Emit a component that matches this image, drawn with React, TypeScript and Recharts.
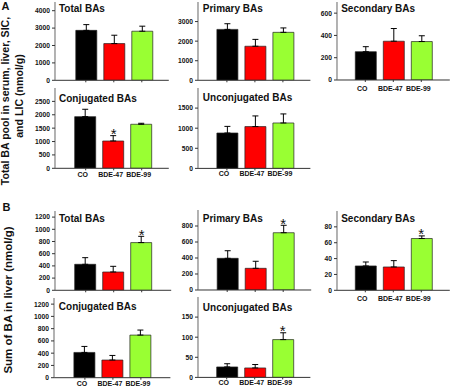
import React from 'react';
import { BarChart, Bar, XAxis, YAxis, ErrorBar, Cell, ReferenceDot } from 'recharts';

const FONT = 'Liberation Sans, Arial, sans-serif';

const groups = ['CO', 'BDE-47', 'BDE-99'];
const groupColors = ['#000000', '#ff0000', '#99ff33'];

// Panel A: total BA pool in serum, liver, SIC and LIC (nmol/g)
const aTotalMean = [2870, 2110, 2820];
const aTotalErr = [330, 480, 290];
const aPrimaryMean = [2600, 1740, 2450];
const aPrimaryErr = [290, 350, 225];
const aSecondaryMean = [254, 348, 345];
const aSecondaryErr = [45, 114, 52];
const aConjMean = [1930, 1020, 1645];
const aConjErr = [275, 200, 37];
const aUnconjMean = [880, 1040, 1130];
const aUnconjErr = [165, 265, 225];

// Panel B: sum of BA in liver (nmol/g)
const bTotalMean = [426, 300, 782];
const bTotalErr = [109, 93, 103];
const bPrimaryMean = [396, 271, 716];
const bPrimaryErr = [95, 88, 93];
const bSecondaryMean = [30.7, 29.4, 65.3];
const bSecondaryErr = [5, 8, 3.3];
const bConjMean = [412, 288, 695];
const bConjErr = [98, 75, 82];
const bUnconjMean = [26, 23.5, 94];
const bUnconjErr = [8, 8.5, 17];

// significance markers (*)
const noSig = [false, false, false];
const aConjSig = [false, true, false];
const bTotalSig = [false, false, true];
const bPrimarySig = [false, false, true];
const bSecondarySig = [false, false, true];
const bUnconjSig = [false, false, true];

// y-axis ticks
const ticks4000 = [0, 1000, 2000, 3000, 4000];
const ticks3000 = [0, 1000, 2000, 3000];
const ticks600 = [0, 200, 400, 600];
const ticks2500 = [0, 500, 1000, 1500, 2000, 2500];
const ticks1500 = [0, 500, 1000, 1500];
const ticks1200 = [0, 200, 400, 600, 800, 1000, 1200];
const ticks800 = [0, 200, 400, 600, 800];
const ticks80 = [0, 20, 40, 60, 80];
const ticks150 = [0, 50, 100, 150];

type PanelCfg = {
  title: string;
  mean: number[];
  err: number[];
  sig: boolean[];
  ticks: number[];
  max: number;
  L: number; R: number; T: number; B: number; c1: number;
  labels: boolean;
  labelMargin?: number;
  titleDy: number;
};

const panels: PanelCfg[] = [
  { title: 'Total BAs', mean: aTotalMean, err: aTotalErr, sig: noSig, ticks: ticks4000, max: 4500, L: 54.5, R: 168.3, T: 2, B: 80.3, c1: 85.3, labels: false, titleDy: 10 },
  { title: 'Primary BAs', mean: aPrimaryMean, err: aPrimaryErr, sig: noSig, ticks: ticks3000, max: 4000, L: 198.3, R: 310.7, T: 2, B: 80.3, c1: 227.2, labels: false, titleDy: 10 },
  { title: 'Secondary BAs', mean: aSecondaryMean, err: aSecondaryErr, sig: noSig, ticks: ticks600, max: 700, L: 336.7, R: 449.5, T: 2, B: 80, c1: 365, labels: true, labelMargin: 4.5, titleDy: 10.3 },
  { title: 'Conjugated BAs', mean: aConjMean, err: aConjErr, sig: aConjSig, ticks: ticks2500, max: 3000, L: 54.5, R: 168.3, T: 88, B: 168.3, c1: 85.2, labels: true, labelMargin: 1.5, titleDy: 13.5 },
  { title: 'Unconjugated BAs', mean: aUnconjMean, err: aUnconjErr, sig: noSig, ticks: ticks1500, max: 2000, L: 198.3, R: 310.7, T: 88.3, B: 168.7, c1: 227.2, labels: true, labelMargin: 1, titleDy: 12.4 },
  { title: 'Total BAs', mean: bTotalMean, err: bTotalErr, sig: bTotalSig, ticks: ticks1200, max: 1300, L: 54.5, R: 170.7, T: 210.7, B: 290, c1: 85.2, labels: false, titleDy: 11 },
  { title: 'Primary BAs', mean: bPrimaryMean, err: bPrimaryErr, sig: bPrimarySig, ticks: ticks800, max: 1000, L: 198.3, R: 311.5, T: 210, B: 290, c1: 227.5, labels: false, titleDy: 11.7 },
  { title: 'Secondary BAs', mean: bSecondaryMean, err: bSecondaryErr, sig: bSecondarySig, ticks: ticks80, max: 100, L: 336.7, R: 449.5, T: 210.7, B: 290, c1: 365, labels: true, labelMargin: 3.5, titleDy: 11.6 },
  { title: 'Conjugated BAs', mean: bConjMean, err: bConjErr, sig: noSig, ticks: ticks1200, max: 1300, L: 54.3, R: 170.7, T: 298.3, B: 378, c1: 85.2, labels: true, labelMargin: 1.2, titleDy: 11.7 },
  { title: 'Unconjugated BAs', mean: bUnconjMean, err: bUnconjErr, sig: bUnconjSig, ticks: ticks150, max: 200, L: 198.3, R: 310.7, T: 297.3, B: 377.7, c1: 227, labels: true, labelMargin: 1, titleDy: 13.4 },
];

const StarLabel = (props: any) => {
  const vb = props.viewBox || { x: 0, y: 0, width: 0, height: 0 };
  return (
    <text x={vb.x + (vb.width || 0) / 2} y={vb.y + (vb.height || 0) / 2 + 3.5} textAnchor="middle" fontSize={15} fontFamily={FONT} fill="#111">*</text>
  );
};

function Panel({ p }: { p: PanelCfg }) {
  const yW = 40;
  const mTop = 5;
  const mRight = 2;
  const xH = 16;
  const plotW = p.R - p.L;
  const plotH = p.B - p.T;
  const W = yW + plotW + mRight;
  const H = mTop + plotH + xH;
  const band = 28;
  const padL = p.c1 - band / 2 - p.L;
  const padR = plotW - padL - 3 * band;
  const data = groups.map((g, i) => ({ group: g, mean: p.mean[i], err: [0, p.err[i]] }));
  return (
    <div style={{ position: 'absolute', left: p.L - yW, top: p.T - mTop, width: W, height: H }}>
      <BarChart width={W} height={H} data={data} margin={{ top: mTop, right: mRight, left: 0, bottom: 0 }}>
        <XAxis
          dataKey="group"
          height={xH}
          padding={{ left: padL, right: padR }}
          interval={0}
          tickSize={2}
          tickMargin={p.labels ? p.labelMargin : 0}
          tickFormatter={p.labels ? undefined : () => ''}
          tick={{ fontSize: 7, fontWeight: 'bold', fill: '#111', fontFamily: FONT, dx: -3 } as any}
          axisLine={{ stroke: '#333', strokeWidth: 1 }}
          tickLine={{ stroke: '#333' }}
        />
        <XAxis
          xAxisId="top"
          orientation="top"
          dataKey="group"
          height={0}
          padding={{ left: padL, right: padR }}
          tick={false}
          tickLine={false}
          axisLine={{ stroke: '#888', strokeWidth: 1 }}
        />
        <YAxis
          width={yW}
          domain={[0, p.max]}
          ticks={p.ticks}
          interval={0}
          allowDataOverflow
          tickSize={3}
          tickMargin={2}
          tick={{ fontSize: 6.7, fontWeight: 'bold', fill: '#111', fontFamily: FONT }}
          axisLine={{ stroke: '#666', strokeWidth: 1 }}
          tickLine={{ stroke: '#333' }}
        />
        <YAxis
          yAxisId="right"
          orientation="right"
          width={0}
          domain={[0, p.max]}
          tick={false}
          tickLine={false}
          axisLine={{ stroke: '#888', strokeWidth: 1 }}
        />
        <Bar dataKey="mean" barSize={21} isAnimationActive={false} stroke="#222" strokeWidth={0.7}>
          {data.map((d, i) => (
            <Cell key={d.group} fill={groupColors[i]} />
          ))}
          <ErrorBar dataKey="err" width={3} stroke="#000" strokeWidth={1} direction="y" isAnimationActive={false} />
        </Bar>
        {groups.map((g, i) =>
          p.sig[i] ? (
            <ReferenceDot
              key={g}
              x={g}
              y={p.mean[i] + p.err[i]}
              r={0}
              fill="none"
              stroke="none"
              label={StarLabel}
            />
          ) : null
        )}
      </BarChart>
    </div>
  );
}

export default function App() {
  return (
    <div style={{ position: 'absolute', left: 0, top: 0, width: 451, height: 388, background: '#fff', overflow: 'hidden', fontFamily: FONT }}>
      {panels.map((p, i) => (
        <Panel key={i} p={p} />
      ))}
      <svg width={451} height={388} style={{ position: 'absolute', left: 0, top: 0, pointerEvents: 'none' }}>
        <g fontFamily={FONT} fontWeight="bold" fill="#111">
          <text x={1.5} y={9.5} fontSize={11}>A</text>
          <text x={2.5} y={210.7} fontSize={11}>B</text>
          <text transform="translate(9,101) rotate(-90)" textAnchor="middle" fontSize={10.6}>Total BA pool in serum, liver, SIC,</text>
          <text transform="translate(23,96) rotate(-90)" textAnchor="middle" fontSize={10.6}>and LIC (nmol/g)</text>
          <text transform="translate(11.5,300) rotate(-90)" textAnchor="middle" fontSize={11.5}>Sum of BA in liver (nmol/g)</text>
          {panels.map((p, i) => (
            <text key={i} x={p.L + 4.5} y={p.T + p.titleDy} fontSize={10}>{p.title}</text>
          ))}
        </g>
      </svg>
    </div>
  );
}
